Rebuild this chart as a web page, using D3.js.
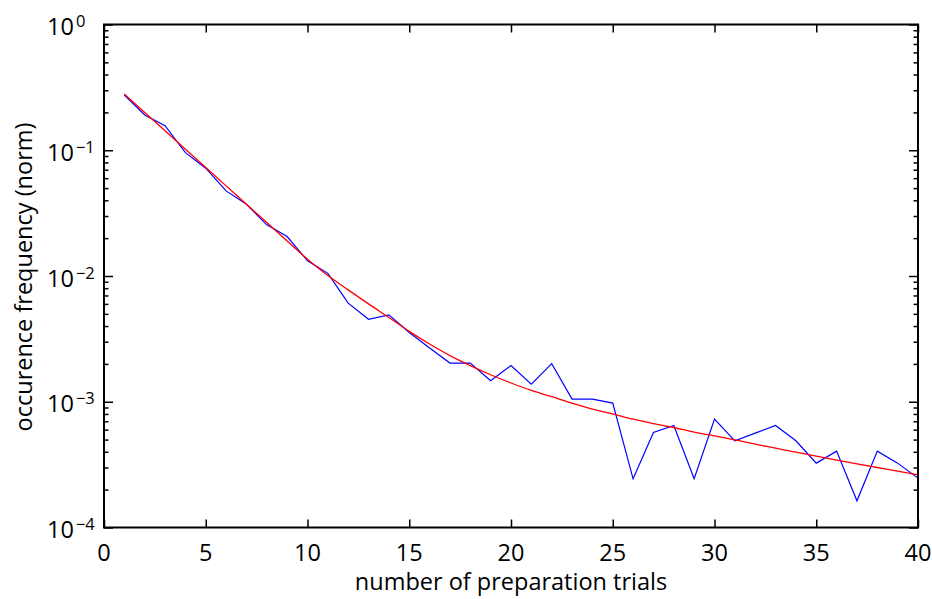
<!DOCTYPE html>
<html>
<head>
<meta charset="utf-8">
<script src="https://cdn.jsdelivr.net/npm/d3@7"></script>
<style>
  html, body { margin: 0; padding: 0; background: #fff; }
  svg text { font-family: "Open Sans", "DejaVu Sans", sans-serif; fill: #000; }
</style>
</head>
<body>
<svg id="chart" width="932" height="599"></svg>
<script>
// Number of preparation trials (x values)
const trials = d3.range(1, 41);

// Measured occurrence frequency (normalised), blue trace
const measured = [
  0.275, 0.191, 0.157, 0.0957, 0.072, 0.0475, 0.0372, 0.0255, 0.0206, 0.0132,
  0.0105, 0.00608, 0.00453, 0.00491, 0.00355, 0.00268, 0.00203, 0.00203, 0.00147, 0.00194,
  0.00138, 0.00201, 0.00105, 0.00105, 0.000975, 0.000244, 0.000569, 0.000647, 0.000244, 0.000727,
  0.000489, 0.000563, 0.000647, 0.000489, 0.000325, 0.000405, 0.000163, 0.000405, 0.000325, 0.000247
];

// Fitted model curve, red trace
const fitted = [
  0.280, 0.200, 0.143, 0.102, 0.0729, 0.0521, 0.0372, 0.0266, 0.0190, 0.0136,
  0.0101, 0.00776, 0.00600, 0.00468, 0.00363, 0.00288, 0.00233, 0.00194, 0.00164, 0.00141,
  0.00123, 0.00110, 0.000975, 0.000873, 0.000800, 0.000726, 0.000671, 0.000624, 0.000573, 0.000536,
  0.000498, 0.000460, 0.000428, 0.000397, 0.000369, 0.000344, 0.000321, 0.000300, 0.000281, 0.000262
];

const xTicks = [0, 5, 10, 15, 20, 25, 30, 35, 40];
const yExponents = [0, -1, -2, -3, -4];

const svg = d3.select("#chart");
const plotLeft = 104, plotRight = 918, plotTop = 24.5, plotBottom = 527.5;

const x = d3.scaleLinear().domain([0, 40]).range([plotLeft, plotRight]);
const y = d3.scaleLog().domain([1e-4, 1]).range([plotBottom, plotTop]);

const majorY = yExponents.map(e => Math.pow(10, e));
const minorY = [];
for (let e = -4; e < 0; e++) {
  for (let m = 2; m <= 9; m++) minorY.push(m * Math.pow(10, e));
}

// Data lines (drawn first so the frame sits on top)
const line = d3.line()
  .x((d, i) => x(trials[i]))
  .y(d => y(d));

svg.append("path")
  .datum(measured)
  .attr("fill", "none")
  .attr("stroke", "#0000ff")
  .attr("stroke-width", 1.2)
  .attr("d", line);

svg.append("path")
  .datum(fitted)
  .attr("fill", "none")
  .attr("stroke", "#ff0000")
  .attr("stroke-width", 1.3)
  .attr("d", line.curve(d3.curveMonotoneX));

// Inward tick marks on all four sides
function styleAxis(g) {
  g.select(".domain").remove();
  g.selectAll(".tick line").attr("stroke", "#000").attr("stroke-width", 1.5);
  g.selectAll(".tick text").remove();
}

svg.append("g").attr("transform", `translate(0,${plotBottom})`)
  .call(d3.axisBottom(x).tickValues(xTicks).tickSize(-8)).call(styleAxis);
svg.append("g").attr("transform", `translate(0,${plotTop})`)
  .call(d3.axisTop(x).tickValues(xTicks).tickSize(-8)).call(styleAxis);

svg.append("g").attr("transform", `translate(${plotLeft},0)`)
  .call(d3.axisLeft(y).tickValues(majorY).tickSize(-9)).call(styleAxis);
svg.append("g").attr("transform", `translate(${plotLeft},0)`)
  .call(d3.axisLeft(y).tickValues(minorY).tickSize(-4.5)).call(styleAxis);
svg.append("g").attr("transform", `translate(${plotRight},0)`)
  .call(d3.axisRight(y).tickValues(majorY).tickSize(-9)).call(styleAxis);
svg.append("g").attr("transform", `translate(${plotRight},0)`)
  .call(d3.axisRight(y).tickValues(minorY).tickSize(-4.5)).call(styleAxis);

// Frame
svg.append("rect")
  .attr("x", plotLeft).attr("y", plotTop)
  .attr("width", plotRight - plotLeft).attr("height", plotBottom - plotTop)
  .attr("fill", "none").attr("stroke", "#000").attr("stroke-width", 2);

// X tick labels
svg.append("g").selectAll("text")
  .data(xTicks).join("text")
  .attr("x", d => x(d))
  .attr("y", plotBottom + 33)
  .attr("text-anchor", "middle")
  .attr("font-size", 23.5)
  .text(d => d);

// Y tick labels: 10 with a superscript exponent
const yl = svg.append("g").selectAll("text")
  .data(yExponents).join("text")
  .attr("x", 47)
  .attr("y", e => y(Math.pow(10, e)) + 10.5)
  .attr("font-size", 23.5);
yl.append("tspan").text("10");
yl.append("tspan")
  .attr("font-size", 16.5)
  .attr("dx", 2)
  .attr("dy", -8)
  .text(e => e === 0 ? "0" : "\u2212" + Math.abs(e));

// Axis titles
svg.append("text")
  .attr("x", (plotLeft + plotRight) / 2)
  .attr("y", 590)
  .attr("text-anchor", "middle")
  .attr("font-size", 23.5)
  .text("number of preparation trials");

svg.append("text")
  .attr("transform", `translate(32,${(plotTop + plotBottom) / 2 + 1}) rotate(-90)`)
  .attr("text-anchor", "middle")
  .attr("font-size", 23.5)
  .text("occurence frequency (norm)");
</script>
</body>
</html>
